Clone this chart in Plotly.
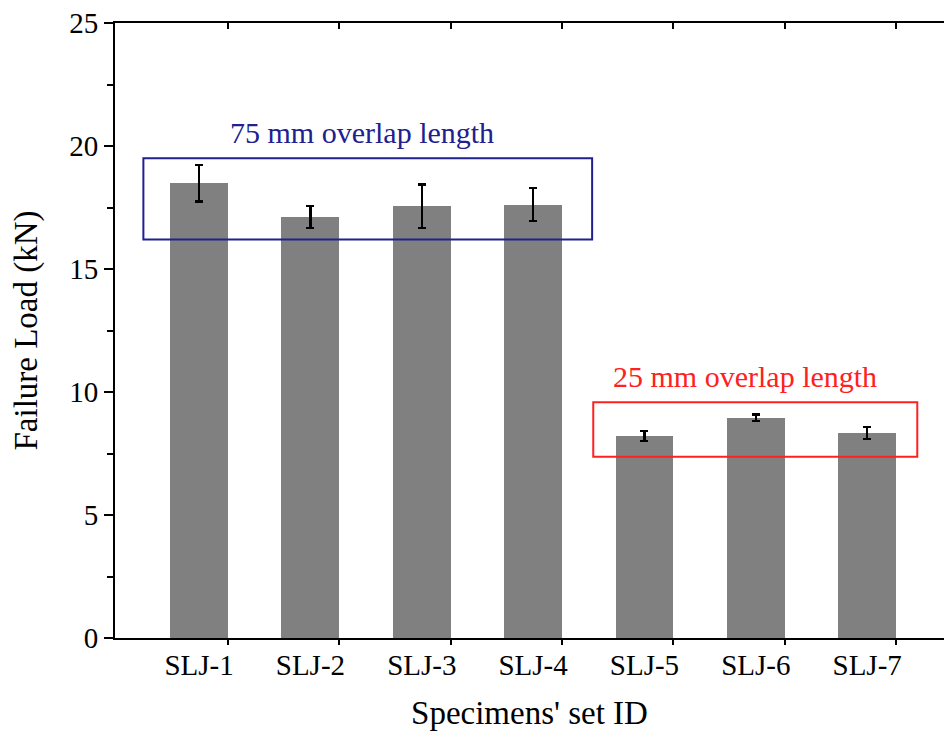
import plotly.graph_objects as go

# Specimen sets and measured failure loads (kN) with their scatter
specimens = ["SLJ-1", "SLJ-2", "SLJ-3", "SLJ-4", "SLJ-5", "SLJ-6", "SLJ-7"]
failure_load = [18.48, 17.12, 17.56, 17.62, 8.22, 8.96, 8.33]
load_error = [0.74, 0.45, 0.88, 0.68, 0.20, 0.13, 0.24]

# Group boxes (x from, x to, y from, y to) and their captions
group_labels = ["75 mm overlap length", "25 mm overlap length"]
group_colors = ["#20208f", "#ff2020"]
group_boxes = [(0.50, 4.53, 16.2, 19.5), (4.54, 7.45, 7.37, 9.58)]
caption_x = [2.46, 5.90]

positions = list(range(1, len(specimens) + 1))
bar_width = 0.52
edge_ticks = [p + bar_width / 2 for p in positions]

FONT = "Liberation Serif, Times New Roman, serif"
x_range = [0.245, 7.69]

fig = go.Figure()
fig.add_trace(go.Bar(
    x=positions, y=failure_load, width=bar_width,
    marker=dict(color="#808080", line=dict(width=0)),
    error_y=dict(type="data", array=load_error, visible=True,
                 color="black", thickness=2.3, width=4),
    showlegend=False,
))
# carrier traces for the overlay tick axes
fig.add_trace(go.Scatter(x=[None], y=[None], xaxis="x2", showlegend=False))
fig.add_trace(go.Scatter(x=[None], y=[None], xaxis="x3", showlegend=False))

for (x0, x1, y0, y1), cx, color, label in zip(group_boxes, caption_x, group_colors, group_labels):
    fig.add_shape(type="rect", x0=x0, x1=x1, y0=y0, y1=y1,
                  line=dict(color=color, width=2), fillcolor="rgba(0,0,0,0)")
    fig.add_annotation(x=cx, y=y1 + 0.3, text=label,
                       showarrow=False, yanchor="bottom",
                       font=dict(family=FONT, size=30, color=color))

fig.update_layout(
    width=944, height=731,
    margin=dict(l=115, r=0, t=23, b=93),
    paper_bgcolor="white", plot_bgcolor="white",
    font=dict(family=FONT, color="black"),
    bargap=0,
    xaxis=dict(
        range=x_range, tickmode="array", tickvals=positions, ticktext=specimens,
        ticks="", showline=True, linecolor="black", linewidth=2,
        tickfont=dict(size=29, family=FONT), showgrid=False, zeroline=False,
        title=dict(text="Specimens' set ID", font=dict(size=33, family=FONT), standoff=22),
    ),
    xaxis2=dict(
        overlaying="x", matches="x", range=x_range, side="bottom",
        tickmode="array", tickvals=edge_ticks, showticklabels=False,
        ticks="outside", ticklen=6, tickwidth=2, tickcolor="black",
        showline=False, showgrid=False, zeroline=False,
    ),
    xaxis3=dict(
        overlaying="x", matches="x", range=x_range, side="top",
        tickmode="array", tickvals=edge_ticks, showticklabels=False,
        ticks="inside", ticklen=6, tickwidth=2, tickcolor="black",
        showline=True, linecolor="black", linewidth=2,
        showgrid=False, zeroline=False,
    ),
    yaxis=dict(
        range=[0, 25], tickmode="linear", tick0=0, dtick=5,
        ticks="outside", ticklen=9, tickwidth=2, tickcolor="black",
        minor=dict(ticks="outside", ticklen=6, tickwidth=2, tickcolor="black", dtick=2.5),
        showline=True, linecolor="black", linewidth=2,
        tickfont=dict(size=29, family=FONT), showgrid=False, zeroline=False,
        title=dict(text="Failure Load (kN)", font=dict(size=33, family=FONT), standoff=22),
    ),
)

fig.write_html("out.html")
